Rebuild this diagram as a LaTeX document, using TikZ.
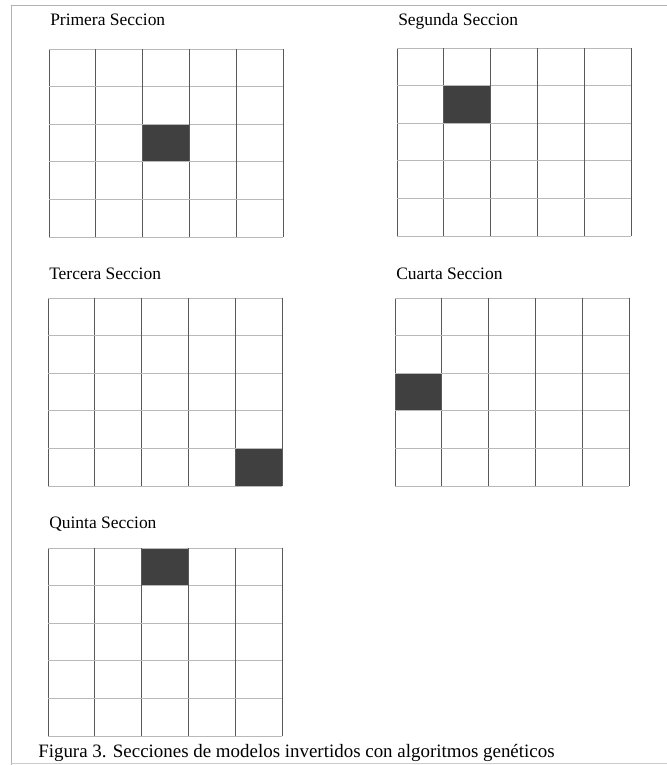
\documentclass[tikz,border=0pt]{standalone}
\usepackage{fontspec}
\setmainfont{Liberation Serif}
\usepackage{xcolor}
\definecolor{celda}{gray}{0.25}

\begin{document}
\begin{tikzpicture}[x=0.75pt,y=-0.75pt]
    \useasboundingbox (0,0) rectangle (667,765);

    % Draw page frame
    \draw[gray!60, line width=0.6pt] (667,5) -- (11,5) -- (11,765);
    \draw[gray!40, line width=0.6pt] (11,763) -- (667,763);

    % Draw the five sections: origin, shaded column/row, title baseline, title
    \foreach \px/\py/\col/\row/\tb/\titulo in {49/49/2/2/25/Primera, 397/48/1/1/25/Segunda, 48/298/4/4/279/Tercera, 395/298/0/2/279/Cuarta, 48/548/2/0/528/Quinta}
    {
        % shaded cell
        \fill[celda] (\px+\col*46.8,\py+\row*37.6) rectangle ++(46.8,37.6);
        % grid lines
        \foreach \i in {0,...,5}
        {
            \draw[black!65, line width=0.6pt] (\px+\i*46.8,\py) -- ++(0,188);
            \draw[gray!55, line width=0.6pt] (\px,\py+\i*37.6) -- ++(234,0);
        }
        % title
        \node[anchor=base west, inner sep=0pt, font=\fontsize{13.1}{15}\selectfont] (titulo-\titulo) at (\px+1,\tb) {\titulo\ Seccion};
    }

    % Add caption
    \node[anchor=base west, inner sep=0pt, font=\fontsize{14.2}{17}\selectfont] (caption) at (38,757) {Figura 3. Secciones de modelos invertidos con algoritmos genéticos};
\end{tikzpicture}
\end{document}
